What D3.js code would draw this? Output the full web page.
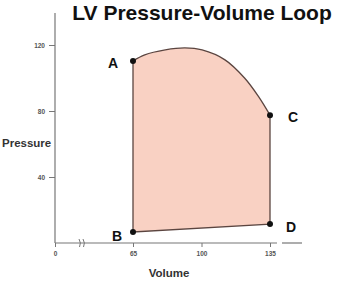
<!DOCTYPE html>
<html>
<head>
<meta charset="utf-8">
<script src="https://cdn.jsdelivr.net/npm/d3@7"></script>
<style>
  body { margin: 0; background: #fff; }
  text { font-family: Arial, "Liberation Sans", sans-serif; }
</style>
</head>
<body>
<svg id="chart"></svg>
<script>
// Loop data (volume, pressure)
const topCurve = [[65, 110.3], [71, 114], [81.5, 117], [91.5, 118.2], [100.3, 117],
  [112, 111], [122, 100], [129, 89], [135, 77.5]];
const corners = [['A', 65, 110.3], ['B', 65, 6.7], ['C', 135, 77.5], ['D', 135, 11.5]];
const xTicks = [0, 65, 100, 135];
const yTicks = [40, 80, 120];

const width = 347, height = 290;
const svg = d3.select('#chart').attr('width', width).attr('height', height);

// broken x axis: 0 sits left of the break
const x = d3.scaleLinear().domain([0, 65, 135]).range([55, 133, 270]);
const y = d3.scaleLinear().domain([0, 120]).range([243, 45]);

// title
svg.append('text')
  .attr('x', 202).attr('y', 20)
  .attr('text-anchor', 'middle')
  .style('font-size', '21px').style('font-weight', 'bold').attr('fill', '#111')
  .text('LV Pressure-Volume Loop');

// y axis
const yAxis = svg.append('g').attr('transform', `translate(${x(0)},0)`)
  .call(d3.axisLeft(y).tickValues(yTicks).tickSize(6).tickSizeOuter(0));
yAxis.select('.domain').remove();
yAxis.append('line').attr('x1', 0).attr('x2', 0).attr('y1', 13).attr('y2', y(0))
  .attr('stroke', '#777').attr('stroke-width', 1.2);
yAxis.selectAll('.tick line').attr('stroke', '#777');
yAxis.selectAll('.tick text').attr('fill', '#555').style('font-size', '6.5px')
  .style('font-weight', 'bold').attr('x', -10);

// x axis
const xAxis = svg.append('g').attr('transform', `translate(0,${y(0)})`)
  .call(d3.axisBottom(x).tickValues(xTicks).tickSize(4).tickSizeOuter(0));
xAxis.select('.domain').remove();
xAxis.append('line').attr('x1', x(0)).attr('x2', 277).attr('y1', 0).attr('y2', 0)
  .attr('stroke', '#777').attr('stroke-width', 1.2);
xAxis.append('line').attr('x1', 282).attr('x2', 302).attr('y1', 0).attr('y2', 0)
  .attr('stroke', '#777').attr('stroke-width', 1.2);
xAxis.selectAll('.tick line').attr('stroke', '#777');
xAxis.selectAll('.tick text').attr('fill', '#555').style('font-size', '6.5px')
  .style('font-weight', 'bold').attr('y', 8);
// break marks
[80, 84].forEach(bx => {
  xAxis.append('path')
    .attr('d', `M${bx - 1},-4 Q${bx + 1.5},0 ${bx - 0.5},4`)
    .attr('fill', 'none').attr('stroke', '#777').attr('stroke-width', 1);
});

// axis titles
svg.append('text').attr('x', 2).attr('y', 147)
  .style('font-size', '11.5px').style('font-weight', 'bold').attr('fill', '#333')
  .text('Pressure');
svg.append('text').attr('x', 169).attr('y', 277).attr('text-anchor', 'middle')
  .style('font-size', '11.5px').style('font-weight', 'bold').attr('fill', '#333')
  .text('Volume');

// loop
const line = d3.line().x(d => x(d[0])).y(d => y(d[1])).curve(d3.curveCatmullRom);
const D = corners[3], B = corners[1];
const loopPath = line(topCurve) + `L${x(D[1])},${y(D[2])}L${x(B[1])},${y(B[2])}Z`;
svg.append('path')
  .attr('d', loopPath)
  .attr('fill', '#f9d1c3')
  .attr('stroke', '#5b4540')
  .attr('stroke-width', 1.3);

// points
svg.selectAll('.pt').data(corners).join('circle')
  .attr('class', 'pt')
  .attr('cx', d => x(d[1])).attr('cy', d => y(d[2]))
  .attr('r', 3).attr('fill', '#111');

// point labels
const labelOffset = {A: [-25, 2], B: [-21, 4], C: [18, 2], D: [16, 3]};
svg.selectAll('.lbl').data(corners).join('text')
  .attr('class', 'lbl')
  .attr('x', d => x(d[1]) + labelOffset[d[0]][0])
  .attr('y', d => y(d[2]) + labelOffset[d[0]][1])
  .attr('dy', '0.35em')
  .style('font-size', '14px').style('font-weight', 'bold').attr('fill', '#111')
  .text(d => d[0]);
</script>
</body>
</html>
